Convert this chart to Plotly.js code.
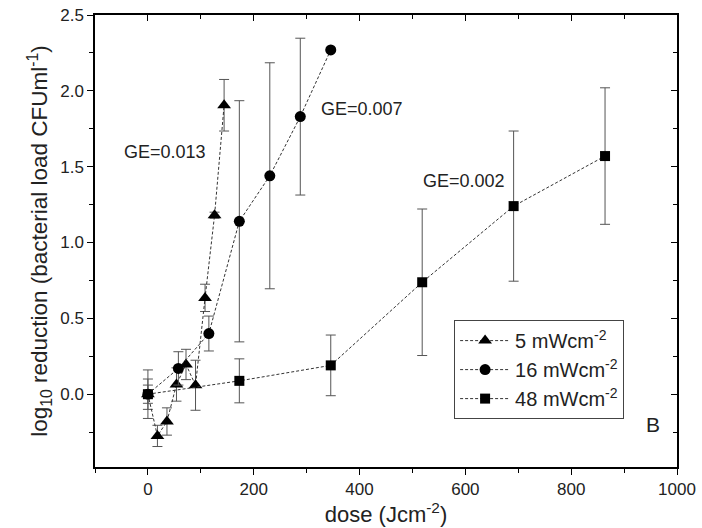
<!DOCTYPE html>
<html>
<head>
<meta charset="utf-8">
<script src="https://cdn.plot.ly/plotly-3.0.1.min.js"></script>
<style>html,body{margin:0;padding:0;background:#fff;}#chart{width:702px;height:528px;}</style>
</head>
<body>
<div id="chart"></div>
<script>
// 5 mWcm-2
const dose5 = [0, 18, 36, 54, 72, 90, 108, 126, 144];
const red5 = [0.0, -0.275, -0.18, 0.064, 0.196, 0.059, 0.635, 1.18, 1.905];
const err5 = [0.10, 0.07, 0.09, 0.11, 0.10, 0.165, 0.09, 0.02, 0.17];
// 16 mWcm-2
const dose16 = [0, 57.6, 115.2, 172.8, 230.4, 288, 345.6];
const red16 = [0.0, 0.17, 0.40, 1.14, 1.44, 1.83, 2.27];
const err16 = [0.16, 0.11, 0.115, 0.795, 0.745, 0.517, 0];
// 48 mWcm-2
const dose48 = [0, 172.8, 345.6, 518.4, 691.2, 864];
const red48 = [0.0, 0.088, 0.19, 0.738, 1.24, 1.57];
const err48 = [0.06, 0.145, 0.2, 0.483, 0.495, 0.45];

const seriesNames = ['5 mWcm<sup>-2</sup>', '16 mWcm<sup>-2</sup>', '48 mWcm<sup>-2</sup>'];
const geLabels = ['GE=0.013', 'GE=0.007', 'GE=0.002'];
const geX = [32, 404, 597];
const geY = [1.595, 1.883, 1.406];

function mk(x, y, e, name, sym, size) {
  return {
    x: x, y: y, name: name, type: 'scatter', mode: 'lines+markers',
    line: {color: '#333', width: 1, dash: '3px,2px'},
    marker: {symbol: sym, size: size, color: '#000'},
    error_y: {type: 'data', array: e, visible: true, color: '#555', thickness: 1, width: 5}
  };
}
const data = [
  mk(dose5, red5, err5, seriesNames[0], 'triangle-up', 12),
  mk(dose16, red16, err16, seriesNames[1], 'circle', 11),
  mk(dose48, red48, err48, seriesNames[2], 'square', 10)
];

const fam = 'Liberation Sans, Arial, sans-serif';
const tc = '#222';
const xr = [-100, 1000], yr = [-0.48, 2.5];
const layout = {
  width: 702, height: 528,
  margin: {l: 95, r: 25, t: 15, b: 61},
  paper_bgcolor: '#fff', plot_bgcolor: '#fff',
  font: {size: 17, family: fam, color: tc},
  showlegend: true,
  legend: {x: 0.617, y: 0.325, xanchor: 'left', yanchor: 'top', bordercolor: '#444', borderwidth: 1,
           bgcolor: '#fff', font: {size: 20, family: fam, color: tc}, tracegroupgap: 0, itemwidth: 50},
  xaxis: {range: xr, dtick: 200, tick0: 0, ticks: 'outside', ticklen: 6, tickcolor: '#000',
          showline: true, linecolor: '#000', linewidth: 1.5, showgrid: false, zeroline: false,
          minor: {dtick: 100, ticks: 'outside', ticklen: 4, tickcolor: '#000'},
          tickfont: {size: 17, family: fam, color: tc},
          title: {text: 'dose (Jcm<sup>-2</sup>)', font: {size: 22, family: fam, color: tc}, standoff: 8}},
  yaxis: {range: yr, dtick: 0.5, tick0: 0, tickformat: '.1f', ticks: 'outside', ticklen: 6, tickcolor: '#000',
          showline: true, linecolor: '#000', linewidth: 1.5, showgrid: false, zeroline: false,
          minor: {dtick: 0.25, ticks: 'outside', ticklen: 4, tickcolor: '#000'},
          tickfont: {size: 17, family: fam, color: tc},
          title: {text: 'log<sub>10</sub> reduction (bacterial load CFUml<sup>-1</sup>)', font: {size: 22.5, family: fam, color: tc}, standoff: 6}},
  xaxis2: {overlaying: 'x', side: 'top', range: xr, dtick: 200, tick0: 0, ticks: 'inside', ticklen: 6,
           tickcolor: '#000', showticklabels: false, showline: true, linecolor: '#000', linewidth: 1.5,
           showgrid: false, zeroline: false, minor: {dtick: 100, ticks: 'inside', ticklen: 4, tickcolor: '#000'}},
  yaxis2: {overlaying: 'y', side: 'right', range: yr, dtick: 0.5, tick0: 0, ticks: 'inside', ticklen: 6,
           tickcolor: '#000', showticklabels: false, showline: true, linecolor: '#000', linewidth: 1.5,
           showgrid: false, zeroline: false, minor: {dtick: 0.25, ticks: 'inside', ticklen: 4, tickcolor: '#000'}},
  annotations: geLabels.map((t, i) => ({x: geX[i], y: geY[i], text: t, showarrow: false,
           font: {size: 18, family: fam, color: tc}})).concat([
           {x: 955, y: -0.2, text: 'B', showarrow: false, font: {size: 21, family: fam, color: tc}}])
};
// invisible trace to anchor the mirrored axes
data.push({x: xr, y: yr, xaxis: 'x2', yaxis: 'y2', mode: 'markers', marker: {opacity: 0}, showlegend: false, hoverinfo: 'skip'});
Plotly.newPlot('chart', data, layout, {displayModeBar: false});
</script>
</body>
</html>
